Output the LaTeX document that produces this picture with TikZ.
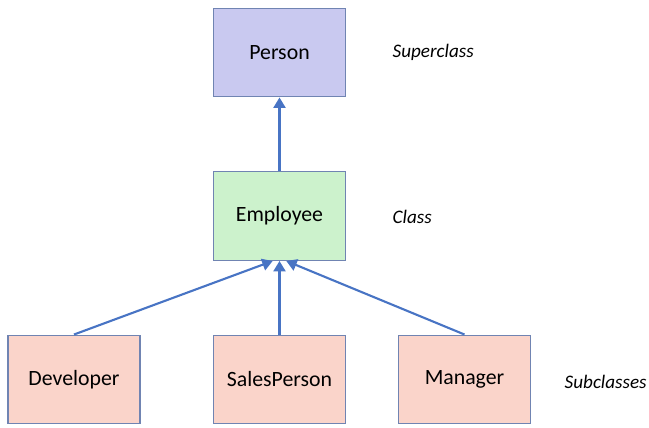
\documentclass[tikz,border=0pt]{standalone}
\usepackage{fontspec}
\setmainfont{Carlito}
\usetikzlibrary{arrows.meta}
\definecolor{supfill}{RGB}{201,201,240}
\definecolor{clsfill}{RGB}{204,242,204}
\definecolor{subfill}{RGB}{250,212,202}
\definecolor{boxline}{RGB}{112,132,178}
\definecolor{arrowblue}{RGB}{72,116,196}
\begin{document}
\begin{tikzpicture}[x=0.025cm,y=-0.025cm, every node/.style={font=\fontsize{15.5}{18}\selectfont},
box/.style={draw=boxline,line width=0.8pt,minimum width=3.3cm,minimum height=2.22cm,align=center},
lbl/.style={anchor=west,inner sep=1pt,font=\fontsize{13.6}{16}\selectfont\itshape},
isa/.style={-{Triangle[length=2.6mm,width=3mm]},draw=arrowblue,line width=1.5pt}]
\useasboundingbox (0,0) rectangle (649,427);
\node[box,fill=supfill] (per) at (279.5,52.5) {Person};
\node[box,fill=clsfill] (emp) at (279.5,216) {Employee};
\node[box,fill=subfill] (dev) at (74,379.5) {Developer};
\node[box,fill=subfill] (sal) at (279.5,379.5) {SalesPerson};
\node[box,fill=subfill] (man) at (464.5,379.5) {Manager};
\node[lbl] (lsup) at (391,52) {Superclass};
\node[lbl] (lcls) at (391,217) {Class};
\node[lbl] (lsub) at (563,382) {Subclasses};
\draw[isa] (emp) -- (per);
\draw[isa] (dev.north) -- ([xshift=-0.17cm]emp.south);
\draw[isa] (sal) -- (emp);
\draw[isa] (man.north) -- ([xshift=0.17cm]emp.south);
\end{tikzpicture}
\end{document}
